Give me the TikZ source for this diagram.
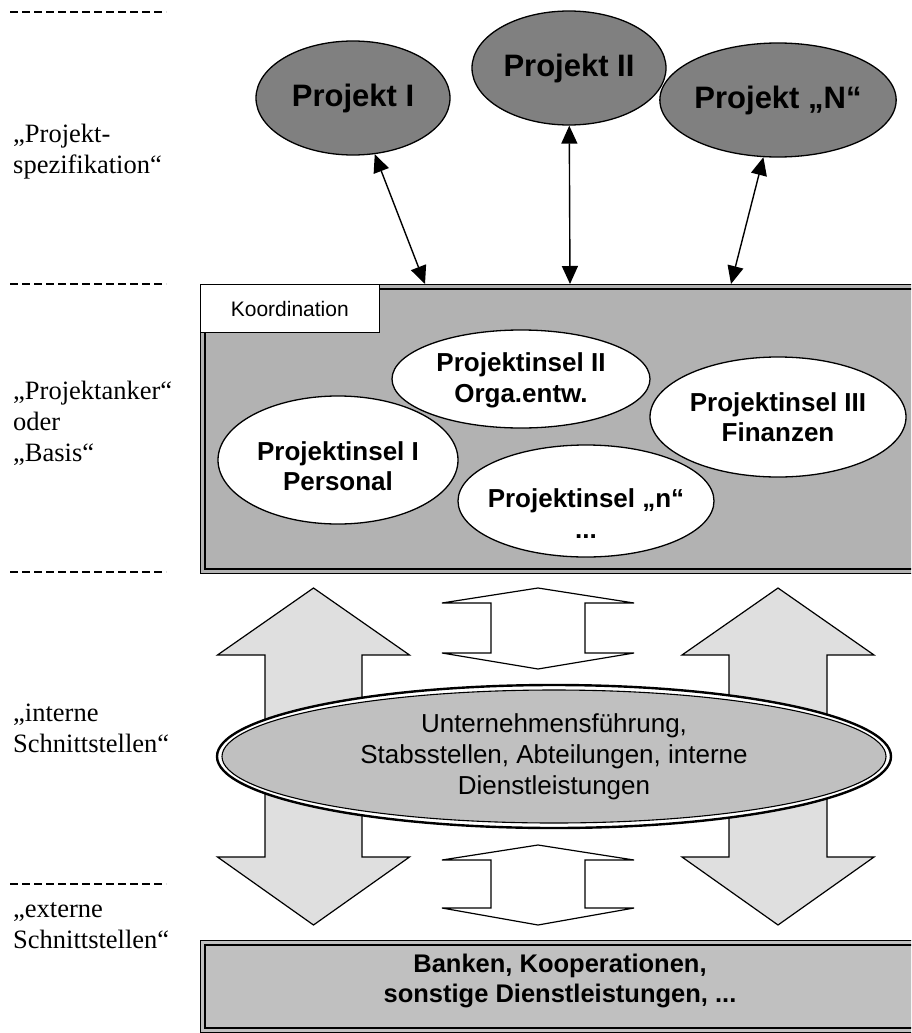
\documentclass[tikz,border=0pt]{standalone}
\usepackage{fontspec}
\setmainfont{Liberation Serif}
\setsansfont{Liberation Sans}
\usetikzlibrary{shapes.geometric,arrows.meta,calc}

\definecolor{projgray}{HTML}{808080}
\definecolor{basegray}{HTML}{B2B2B2}
\definecolor{arrowgray}{HTML}{DFDFDF}
\definecolor{unitgray}{HTML}{C0C0C0}

\begin{document}
\begin{tikzpicture}[x=1pt,y=-1pt,
  lvl/.style={font=\fontsize{26.5}{31}\selectfont, align=left, anchor=west, inner sep=0},
  sepline/.style={line width=1.8pt, dash pattern=on 8pt off 4pt},
  projekt/.style={ellipse, draw, line width=1.3pt, fill=projgray, minimum width=194pt,
    minimum height=114pt, inner sep=0, font=\sffamily\bfseries\fontsize{31}{36}\selectfont},
  insel/.style={ellipse, draw, line width=1.3pt, fill=white, inner sep=0},
  inseltext/.style={font=\sffamily\bfseries\fontsize{26}{30.5}\selectfont, align=center, inner sep=0},
  link/.style={line width=1.4pt, {Triangle[length=18pt,width=16pt]}-{Triangle[length=18pt,width=16pt]}},
  blockarrow/.style={draw, line width=1.2pt, line join=miter},
  framebox/.style={draw, line width=1.1pt, anchor=north west, inner sep=0},
  innerframe/.style={line width=2.5pt},
]
\useasboundingbox (0,0) rectangle (911,1033);
\clip (0,0) rectangle (911,1033);

% level separators on the left
\draw[sepline] (10,12) -- (166,12);
\draw[sepline] (10,284) -- (166,284);
\draw[sepline] (10,572) -- (166,572);
\draw[sepline] (10,884) -- (166,884);

% level captions
\node[lvl] (lv1) at (13,151.4) {„Projekt-\\spezifikation“};
\node[lvl] (lv2) at (13,423.7) {„Projektanker“\\oder\\„Basis“};
\node[lvl] (lv3) at (13,728.5) {„interne\\Schnittstellen“};
\node[lvl] (lv4) at (13,926) {„externe\\Schnittstellen“};

% projects
\node[projekt] (p1) at (353,98) {Projekt I};
\node[projekt] (p2) at (569,68) {Projekt II};
\node[projekt] (p3) at (778,100) {Projekt „N“};

% project anchor (basis)
\node[framebox, fill=basegray, minimum width=720pt, minimum height=289pt] (basis) at (200,284) {};
\draw[innerframe] ($(basis.north west)+(5,5)$) rectangle ($(basis.south east)+(-5,-5)$);
\node[framebox, fill=white, minimum width=178.5pt, minimum height=48pt,
  font=\sffamily\fontsize{21}{24}\selectfont] (koord) at (200,284) {Koordination};

% attachment points on the top edge of the basis
\coordinate (a1) at (425,284);
\coordinate (a2) at (570,284);
\coordinate (a3) at (731,284);
\draw[link] (p1) -- (a1);
\draw[link] (p2) -- (a2);
\draw[link] (p3) -- (a3);

% project islands
\node[insel, minimum width=258pt, minimum height=98pt] (i2) at (521,379) {};
\node[insel, minimum width=256pt, minimum height=120pt] (i3) at (778,417) {};
\node[insel, minimum width=240pt, minimum height=128pt] (i1) at (338,460) {};
\node[insel, minimum width=256pt, minimum height=112pt] (in) at (586,501) {};
\node[inseltext] (t2) at (521,380.5) {Projektinsel II\\Orga.entw.};
\node[inseltext] (t3) at (778,417) {Projektinsel III\\Finanzen};
\node[inseltext] (t1) at (338,466) {Projektinsel I\\Personal};
\node[inseltext] (tn) at (586,513.7) {Projektinsel „n“\\...};

% large exchange arrows
\draw[blockarrow, fill=arrowgray] (313.5,588) -- (409.5,655) -- (362,655) -- (362,857) -- (409.5,857)
  -- (313.5,925) -- (217.5,857) -- (265,857) -- (265,655) -- (217.5,655) -- cycle;
\draw[blockarrow, fill=arrowgray] (778,588) -- (874,655) -- (827,655) -- (827,857) -- (874,857)
  -- (778,925) -- (682,857) -- (729,857) -- (729,655) -- (682,655) -- cycle;
% small exchange arrows
\draw[blockarrow, fill=white] (538,588) -- (634,603) -- (585,603) -- (585,653) -- (634,653)
  -- (538,669) -- (442,653) -- (491,653) -- (491,603) -- (442,603) -- cycle;
\draw[blockarrow, fill=white] (538,845) -- (634,860) -- (585,860) -- (585,908) -- (634,908)
  -- (538,925) -- (442,908) -- (491,908) -- (491,860) -- (442,860) -- cycle;

% internal interfaces
\draw[line width=2.4pt, fill=white] (554,756.5) ellipse [x radius=337, y radius=71.5];
\node[ellipse, draw, line width=1.1pt, fill=unitgray, inner sep=0, minimum width=664pt,
  minimum height=133pt, align=center, font=\sffamily\fontsize{26}{31}\selectfont] (unt) at (554,756.5)
  {Unternehmensführung,\\Stabsstellen, Abteilungen, interne\\Dienstleistungen};

% external interfaces
\node[framebox, fill=unitgray, minimum width=720pt, minimum height=92pt] (ext) at (200,940) {};
\draw[innerframe] ($(ext.north west)+(5,5)$) rectangle ($(ext.south east)+(-5,-5)$);
\node[inseltext, font=\sffamily\bfseries\fontsize{25.5}{30}\selectfont] (extt) at (560,980.5)
  {Banken, Kooperationen,\\sonstige Dienstleistungen, ...};
\end{tikzpicture}
\end{document}
